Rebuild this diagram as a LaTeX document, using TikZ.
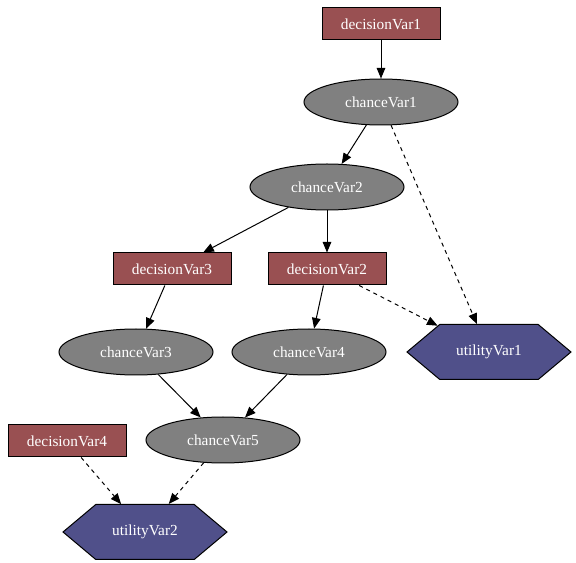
\documentclass[tikz,border=0pt]{standalone}
\usepackage{fontspec}
\setmainfont{Liberation Serif}
\usetikzlibrary{shapes.geometric,shapes.symbols,arrows.meta}

\tikzset{every picture/.style={line width=0.75pt}}
\tikzset{
  decision/.style={draw, rectangle, minimum width=88.5pt, minimum height=24pt, inner sep=0.75pt,
    fill={rgb, 255:red, 153; green, 80; blue, 82 }, text=white, font=\fontsize{11.5}{13}\selectfont},
  chance/.style={draw, ellipse, minimum width=115.5pt, minimum height=34.5pt, inner sep=0.75pt,
    fill={rgb, 255:red, 128; green, 128; blue, 128 }, text=white, font=\fontsize{11.5}{13}\selectfont},
  utility/.style={draw, signal, signal to=east and west, signal pointer angle=80,
    minimum width=123pt, minimum height=41.25pt, inner sep=0.75pt,
    fill={rgb, 255:red, 80; green, 80; blue, 138 }, text=white, font=\fontsize{11.5}{13}\selectfont},
  link/.style={-{Triangle[length=8pt,width=6.5pt]}},
  infolink/.style={link, dashed}
}

\begin{document}
\begin{tikzpicture}[x=0.75pt,y=0.75pt,yscale=-1,xscale=1]
\path (0,0) rectangle (576,563);

% Decision nodes
\node [decision] (dv1) at (381,24) {decisionVar1};
\node [decision] (dv3) at (172,269) {decisionVar3};
\node [decision] (dv2) at (327,269) {decisionVar2};
\node [decision] (dv4) at (67,441) {decisionVar4};
% Chance nodes
\node [chance] (cv1) at (381,102) {chanceVar1};
\node [chance] (cv2) at (327,187) {chanceVar2};
\node [chance] (cv3) at (136,352) {chanceVar3};
\node [chance] (cv4) at (309,352) {chanceVar4};
\node [chance] (cv5) at (223,440) {chanceVar5};
% Utility nodes
\node [utility] (uv1) at (489,352) {utilityVar1};
\node [utility] (uv2) at (145,532) {utilityVar2};

% Links
\draw [link] (dv1) -- (cv1);
\draw [link] (cv1) -- (cv2);
\draw [infolink] (cv1) -- (uv1);
\draw [link] (cv2) -- (dv3);
\draw [link] (cv2) -- (dv2);
\draw [link] (dv3) -- (cv3);
\draw [link] (dv2) -- (cv4);
\draw [infolink] (dv2) -- (uv1);
\draw [link] (cv3) -- (cv5);
\draw [link] (cv4) -- (cv5);
\draw [infolink] (dv4) -- (uv2);
\draw [infolink] (cv5) -- (uv2);

\end{tikzpicture}
\end{document}
